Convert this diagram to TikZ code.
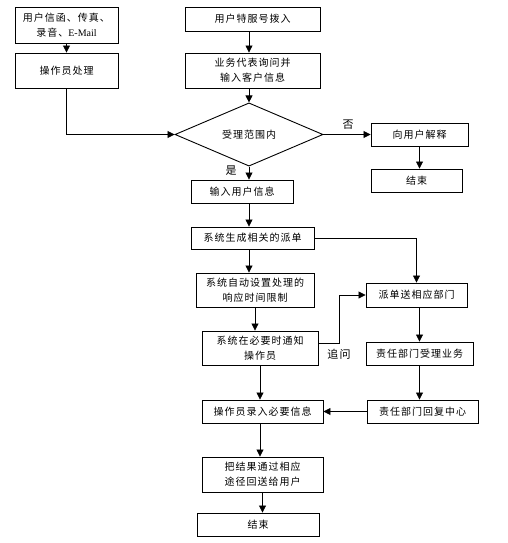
\documentclass[tikz,border=0pt]{standalone}
\usepackage{fontspec}
\setmainfont{Noto Sans CJK SC}[LetterSpace=10]
\newfontfamily\latinfont{Liberation Serif}
\usetikzlibrary{shapes.geometric,arrows.meta}
\begin{document}
\begin{tikzpicture}[x=1pt,y=-1pt,
  every node/.style={font=\fontsize{10}{15}\selectfont},
  box/.style={draw,line width=0.9pt,rectangle,inner sep=0pt,align=center},
  dia/.style={draw,line width=0.9pt,diamond,inner sep=0pt},
  arr/.style={line width=0.8pt,-{Triangle[length=7pt,width=7pt]}},
  lab/.style={inner sep=0pt,font=\fontsize{11}{13}\selectfont}]
\useasboundingbox[fill=white] (0,0) rectangle (508,543);
\node[box,minimum width=103,minimum height=36] (n1) at (66.5,25) {用户信函、传真、\\录音、{\latinfont E-Mail}};
\node[box,minimum width=103,minimum height=35] (n2) at (66.5,70.5) {操作员处理};
\node[box,minimum width=135,minimum height=24] (n3) at (252.5,19) {用户特服号拨入};
\node[box,minimum width=135,minimum height=35] (n4) at (252.5,70.5) {业务代表询问并\\输入客户信息};
\node[dia,minimum width=148,minimum height=45] (d) at (249,134.5) {受理范围内};
\node[box,minimum width=97,minimum height=23] (n5) at (419.5,134.5) {向用户解释};
\node[box,minimum width=91,minimum height=23] (n6) at (416.5,180.5) {结束};
\node[box,minimum width=102,minimum height=23] (n7) at (242,191.5) {输入用户信息};
\node[box,minimum width=123,minimum height=22] (n8) at (252.5,238) {系统生成相关的派单};
\node[box,minimum width=118,minimum height=34] (n9) at (255,290) {系统自动设置处理的\\响应时间限制};
\node[box,minimum width=101,minimum height=24] (n10) at (416.5,295) {派单送相应部门};
\node[box,minimum width=116,minimum height=34] (n11) at (260,348) {系统在必要时通知\\操作员};
\node[box,minimum width=107,minimum height=23] (n12) at (419.5,353.5) {责任部门受理业务};
\node[box,minimum width=121,minimum height=23] (n13) at (262.5,411.5) {操作员录入必要信息};
\node[box,minimum width=111,minimum height=23] (n14) at (422.5,411.5) {责任部门回复中心};
\node[box,minimum width=121,minimum height=35] (n15) at (262.5,474.5) {把结果通过相应\\途径回送给用户};
\node[box,minimum width=122,minimum height=23] (n16) at (258,524.5) {结束};
\node[lab] (yes) at (231,171) {是};
\node[lab] (no) at (348,125) {否};
\node[lab] (ask) at (339,354) {追问};
\coordinate (c11) at (339,0);
\draw[arr] (n1.south) -- (n2.north);
\draw[arr] (n3.south -| d) -- (n4.north -| d);
\draw[arr] (n4.south -| d) -- (d.north);
\draw[arr] (n2.south) |- (d.west);
\draw[arr] (d.east) -- (n5.west);
\draw[arr] (n5.south) -- (n5.south |- n6.north);
\draw[arr] (d.south) -- (n7.north -| d);
\draw[arr] (n7.south -| d) -- (n8.north -| d);
\draw[arr] (n8.south -| d) -- (n9.north -| d);
\draw[arr] (n8.east) -| (n10.north);
\draw[arr] ([xshift=-5pt]n9.south -| n11) -- ([xshift=-5pt]n11.north);
\draw[arr] ([yshift=5pt]n11.east) -| (c11 |- n10.west) -- (n10.west);
\draw[arr] (n10.south -| n12) -- (n12.north);
\draw[arr] (n12.south) -- (n12.south |- n14.north);
\draw[arr] (n14.west) -- (n13.east);
\draw[arr] (n11.south) -- (n11.south |- n13.north);
\draw[arr] (n13.south -| n11) -- (n15.north -| n11);
\draw[arr] (n15.south) -- (n15.south |- n16.north);
\end{tikzpicture}
\end{document}
